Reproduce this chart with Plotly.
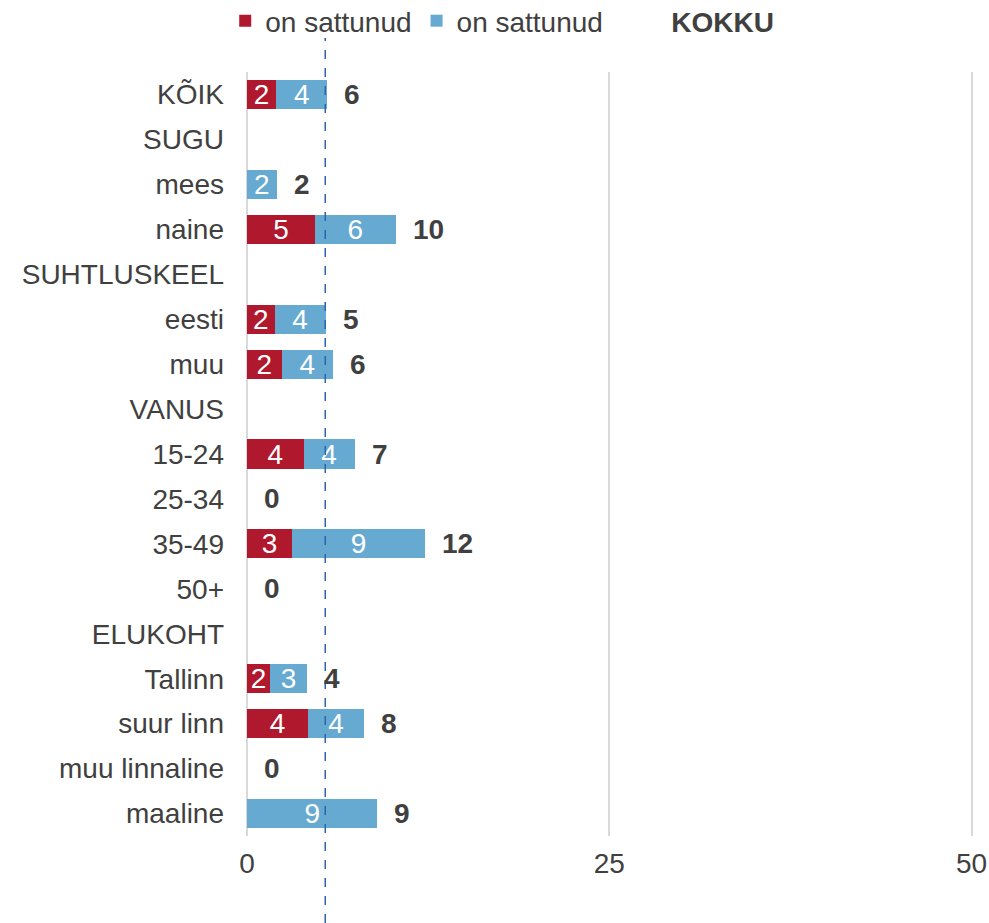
import plotly.graph_objects as go

categories = ["KÕIK", "SUGU", "mees", "naine", "SUHTLUSKEEL", "eesti", "muu",
              "VANUS", "15-24", "25-34", "35-49", "50+", "ELUKOHT",
              "Tallinn", "suur linn", "muu linnaline", "maaline"]
headers = {"SUGU", "SUHTLUSKEEL", "VANUS", "ELUKOHT"}

red_values = [2.0, None, 0, 4.7, None, 1.9, 2.4, None, 3.9, 0, 3.1, 0, None, 1.6, 4.2, 0, 0]
blue_values = [3.55, None, 2.05, 5.55, None, 3.52, 3.52, None, 3.52, 0, 9.2, 0, None, 2.52, 3.9, 0, 9.0]
keskmine = 5.4
x_ticks = [0, 25, 50]

series_names = ["on sattunud", "on sattunud", "KOKKU"]
RED = "#B0182D"
BLUE = "#66A9D1"
TXT = "#404040"
FONT = "Liberation Sans, Arial, sans-serif"

W, H = 989, 923
M_L, M_R, M_T, M_B = 247, 16, 72, 87
plot_h = H - M_T - M_B


def lab(v):
    return "" if (v is None or v == 0) else f"{v:.0f}"


totals = [None if c in headers else (r or 0) + (b or 0)
          for c, r, b in zip(categories, red_values, blue_values)]

fig = go.Figure()
fig.add_trace(go.Bar(
    y=categories, x=red_values, orientation="h", name=series_names[0],
    marker=dict(color=RED, line=dict(width=0)),
    text=[lab(v) for v in red_values], textposition="inside", textangle=0,
    insidetextanchor="middle", constraintext="none",
    textfont=dict(color="white", size=28, family=FONT), hoverinfo="skip"))
fig.add_trace(go.Bar(
    y=categories, x=blue_values, orientation="h", name=series_names[1] + "\u00a0\u00a0\u00a0",
    marker=dict(color=BLUE, line=dict(width=0)),
    text=[lab(v) for v in blue_values], textposition="inside", textangle=0,
    insidetextanchor="middle", constraintext="none",
    textfont=dict(color="white", size=28, family=FONT), hoverinfo="skip"))
fig.add_trace(go.Scatter(
    y=categories, x=totals, mode="markers", name="<b>" + series_names[2] + "</b>",
    marker=dict(color="rgba(0,0,0,0)", size=1), hoverinfo="skip"))

for c, t in zip(categories, totals):
    if t is None:
        continue
    fig.add_annotation(x=t, y=c, xref="x", yref="y", text=f"<b>{t:.0f}</b>",
                       showarrow=False, xanchor="left", yanchor="middle", xshift=15,
                       font=dict(size=28, color=TXT, family=FONT))

fig.add_shape(type="line", xref="x", yref="paper", x0=keskmine, x1=keskmine,
              y0=-M_B / plot_h, y1=1 + 34 / plot_h,
              line=dict(color="#2E64AE", width=1.5, dash="dash"))

fig.update_layout(
    width=W, height=H, barmode="stack", bargap=0.35,
    plot_bgcolor="white", paper_bgcolor="white",
    margin=dict(l=M_L, r=M_R, t=M_T, b=M_B, autoexpand=False),
    font=dict(family=FONT, size=28, color=TXT),
    uniformtext=dict(minsize=28, mode="show"),
    legend=dict(orientation="h", x=-0.030, xanchor="left", y=1 + 51 / plot_h, yanchor="middle",
                traceorder="normal",
                font=dict(size=28, color=TXT, family=FONT),
                itemclick=False, itemdoubleclick=False, bgcolor="rgba(0,0,0,0)"),
    showlegend=True,
)
fig.update_xaxes(range=[0, 50.1], tickvals=x_ticks, showgrid=True, gridcolor="#D9D9D9",
                 gridwidth=1.5, zeroline=True, zerolinecolor="#D9D9D9", zerolinewidth=2,
                 showline=False, ticks="", tickfont=dict(size=28, color=TXT),
                 ticklabelstandoff=8, fixedrange=True, automargin=False)
fig.update_yaxes(range=[len(categories) - 0.5, -0.5], showgrid=False, zeroline=False,
                 showline=False, ticks="", tickfont=dict(size=28, color=TXT),
                 ticklabelstandoff=22, fixedrange=True, automargin=False)

# remove the default 8px page margin so the 989x923 figure fills the window exactly
fig.write_html("out.html", config={"displayModeBar": False},
               post_script="document.body.style.margin='0';document.body.style.overflow='hidden';")
